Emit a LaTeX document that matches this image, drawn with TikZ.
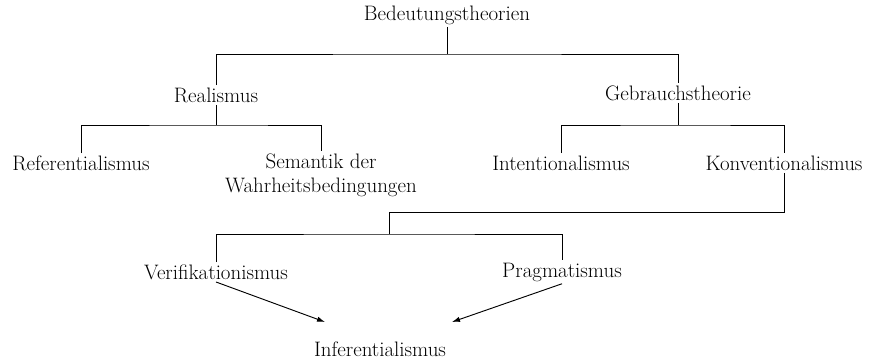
\documentclass[tikz,border=0pt]{standalone}
\usetikzlibrary{arrows.meta}
\begin{document}
\begin{tikzpicture}[x=0.75pt,y=-0.75pt,line width=0.7pt,
  every node/.style={font=\fontsize{15.7}{18}\selectfont,inner sep=1.5pt},
  arr/.style={-{Latex[length=6pt,width=4pt]}}]
\useasboundingbox (0,0) rectangle (876,361);

\node (bed) at (447,15) {Bedeutungstheorien};
\node (real) at (216,95) {Realismus};
\node (geb) at (678,93) {Gebrauchstheorie};
\node (ref) at (81,163) {Referentialismus};
\node[align=center] (sem) at (321,175) {Semantik der\\Wahrheitsbedingungen};
\node (int) at (561,163) {Intentionalismus};
\node (konv) at (784,163) {Konventionalismus};
\node (ver) at (216,272) {Verifikationismus};
\node (prag) at (562,272) {Pragmatismus};
\node (inf) at (380,349) {Inferentialismus};

\coordinate (j1) at (447,54);
\coordinate (j2) at (216,125);
\coordinate (j3) at (678,125);
\coordinate (j4) at (389,212);
\coordinate (j5) at (389,234);
\coordinate (inl) at (325,322);
\coordinate (inr) at (452,322);

\draw (bed) -- (j1);
\draw (real) |- (j1) -| (geb);
\draw (real) -- (j2);
\draw (ref) |- (j2) -| (sem);
\draw (geb) -- (j3);
\draw (int) |- (j3) -| (konv);
\draw (konv) |- (j4);
\draw (j4) -- (j5);
\draw (ver) |- (j5) -| (prag);

\draw[arr] (ver.south) -- (inl);
\draw[arr] (prag.south) -- (inr);

\end{tikzpicture}
\end{document}
